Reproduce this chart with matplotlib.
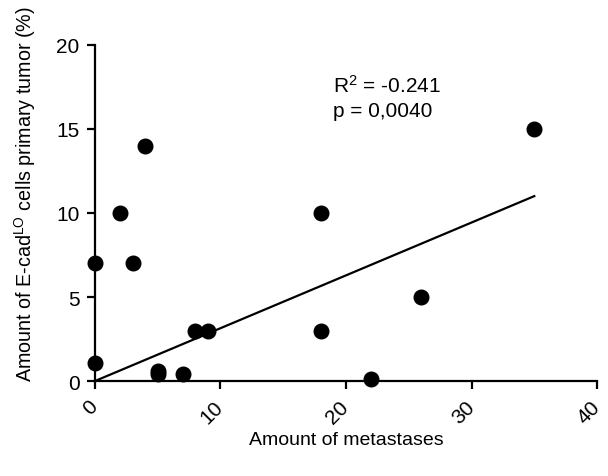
import numpy as np
import matplotlib.pyplot as plt

plt.rcParams['font.family'] = ['Liberation Sans', 'DejaVu Sans']
plt.rcParams['mathtext.fontset'] = 'custom'
plt.rcParams['mathtext.rm'] = 'Liberation Sans'
plt.rcParams['mathtext.it'] = 'Liberation Sans'

metastases = [0, 0, 2, 3, 4, 5, 5, 7, 8, 9, 18, 18, 22, 26, 35]
ecad_lo = [7, 1.1, 10, 7, 14, 0.6, 0.4, 0.4, 3, 3, 10, 3, 0.1, 5, 15]
fit_x = [0, 35]
fit_y = [0, 11.0]
xticks = [0, 10, 20, 30, 40]
yticks = [0, 5, 10, 15, 20]

fig = plt.figure(figsize=(6.08, 4.77), dpi=100)
ax = fig.add_axes([0.156, 0.199, 0.826, 0.705])

ax.plot(fit_x, fit_y, c='k', lw=1.6, zorder=2)
ax.plot(metastases, ecad_lo, 'o', c='k', ms=10.5, clip_on=False, zorder=3)

ax.set_xlim(0, 40)
ax.set_ylim(0, 20)
ax.set_xticks(xticks)
ax.set_yticks(yticks)
ax.spines['top'].set_visible(False)
ax.spines['right'].set_visible(False)
for s in ['left', 'bottom']:
    ax.spines[s].set_linewidth(1.6)
ax.tick_params(width=1.6, length=6, labelsize=15)
plt.setp(ax.get_xticklabels(), rotation=45, ha='right', va='center',
         rotation_mode='anchor')
ax.tick_params(axis='x', pad=10)
ax.tick_params(axis='y', pad=5)

ax.set_xlabel('Amount of metastases', fontsize=14, labelpad=3)
ax.set_ylabel(r'Amount of E-cad$^{\mathrm{LO}}$ cells primary tumor (%)',
              fontsize=14.2, labelpad=13, loc='bottom')

ax.text(19.0, 17.6, r'R$^{2}$ = -0.241', fontsize=15, va='center')
ax.text(19.0, 16.1, 'p = 0,0040', fontsize=15, va='center')

fig.savefig('out.png', dpi=100)
